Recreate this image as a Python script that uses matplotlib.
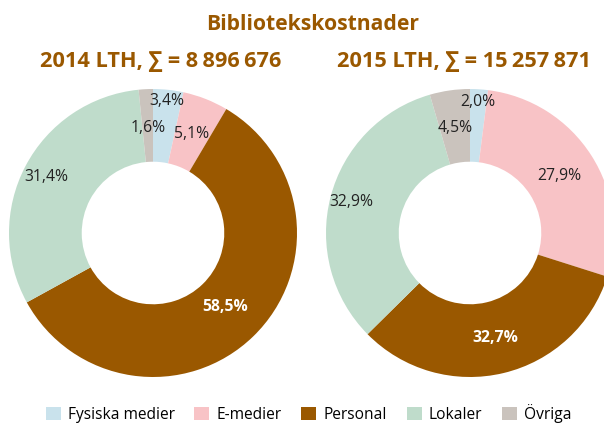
import matplotlib
matplotlib.use("Agg")
import matplotlib.pyplot as plt
from matplotlib.patches import Patch
import numpy as np

plt.rcParams['font.family'] = ['Open Sans', 'DejaVu Sans']

categories = ["Fysiska medier", "E-medier", "Personal", "Lokaler", "Övriga"]
values_2014 = [3.4, 5.1, 58.5, 31.4, 1.6]
values_2015 = [2.0, 27.9, 32.7, 32.9, 4.5]
labels_2014 = ["3,4%", "5,1%", "58,5%", "31,4%", "1,6%"]
labels_2015 = ["2,0%", "27,9%", "32,7%", "32,9%", "4,5%"]
title = "Bibliotekskostnader"
subtitle_2014 = "2014 LTH, \u2211 = 8\u2009896\u2009676"
subtitle_2015 = "2015 LTH, \u2211 = 15\u2009257\u2009871"

colors = ["#c9e2ec", "#f8c3c6", "#9a5800", "#bfdccb", "#cac3bd"]
text_colors = ["#222222", "#222222", "white", "#222222", "#222222"]
title_color = "#9a5800"

# label radius (fraction of outer radius)
rad_2014 = [0.92, 0.74, 0.72, 0.84, 0.73]
rad_2015 = [0.91, 0.74, 0.75, 0.85, 0.74]

W, H = 604, 423
fig = plt.figure(figsize=(W / 100, H / 100), dpi=100)


def donut(cx, cy, R, vals, labels, rads):
    ax = fig.add_axes([(cx - R) / W, (H - cy - R) / H, 2 * R / W, 2 * R / H])
    wedges, _ = ax.pie(vals, colors=colors, startangle=90, counterclock=False,
                       radius=1.0, wedgeprops=dict(width=0.505, edgecolor='none'))
    for w, lab, r, tc in zip(wedges, labels, rads, text_colors):
        ang = np.deg2rad((w.theta1 + w.theta2) / 2)
        ax.text(r * np.cos(ang), r * np.sin(ang), lab, ha='center', va='center',
                fontsize=11.3, color=tc,
                fontweight='bold' if tc == 'white' else 'normal')
    ax.set_xlim(-1, 1)
    ax.set_ylim(-1, 1)
    ax.set_aspect('auto')
    ax.axis('off')
    return ax


donut(153, 233, 144, values_2014, labels_2014, rad_2014)
donut(470, 233, 144, values_2015, labels_2015, rad_2015)

fig.text(313 / W, 1 - 30 / H, title, ha='center', va='baseline', fontsize=15.2,
         fontweight='bold', color=title_color)
fig.text(161 / W, 1 - 67 / H, subtitle_2014, ha='center', va='baseline', fontsize=15.7,
         fontweight='bold', color=title_color)
fig.text(464 / W, 1 - 67 / H, subtitle_2015, ha='center', va='baseline', fontsize=15.7,
         fontweight='bold', color=title_color)

handles = [Patch(facecolor=c, edgecolor='none') for c in colors]
fig.legend(handles, categories, loc='center', bbox_to_anchor=(308.5 / W, 1 - 413.5 / H),
           ncol=5, frameon=False, fontsize=11.2, handlelength=0.96, handleheight=0.96,
           handletextpad=0.45, columnspacing=1.28, borderpad=0, borderaxespad=0)

fig.savefig("out.png", dpi=100)
